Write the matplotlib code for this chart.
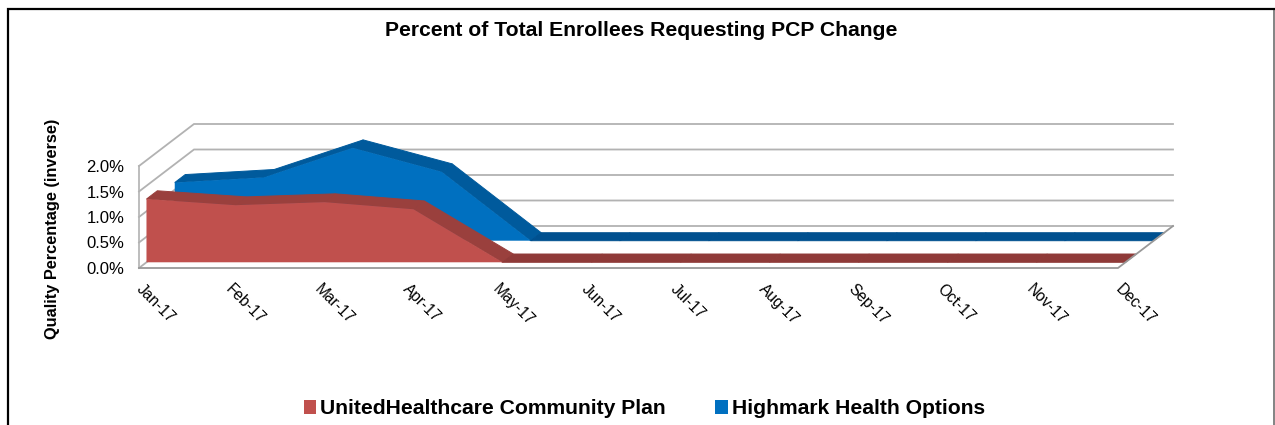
import matplotlib
matplotlib.use("Agg")
import matplotlib.pyplot as plt
from matplotlib.patches import Patch, Polygon
from matplotlib.lines import Line2D
from matplotlib.transforms import ScaledTranslation

plt.rcParams['font.family'] = ['Liberation Sans', 'DejaVu Sans']

months = ['Jan-17', 'Feb-17', 'Mar-17', 'Apr-17', 'May-17', 'Jun-17',
          'Jul-17', 'Aug-17', 'Sep-17', 'Oct-17', 'Nov-17', 'Dec-17']
united = [1.24, 1.12, 1.18, 1.04, 0, 0, 0, 0, 0, 0, 0, 0]
highmark = [1.14, 1.24, 1.82, 1.35, 0, 0, 0, 0, 0, 0, 0, 0]
y_ticks = [0.0, 0.5, 1.0, 1.5, 2.0]
y_labels = ['0.0%', '0.5%', '1.0%', '1.5%', '2.0%']

W, H = 1275, 425
fig = plt.figure(figsize=(W / 100, H / 100), dpi=100, facecolor='white')

# pixel geometry of the front floor edge
L, R, B, T = 139, 1118, 268, 166
ax = fig.add_axes([L / W, 1 - B / H, (R - L) / W, (B - T) / H])
ax.set_xlim(0, 11)
ax.set_ylim(0, 2)
ax.patch.set_visible(False)
for s in ax.spines.values():
    s.set_visible(False)

# oblique projection: depth 1 moves the point right and up
DX = 55 / ((R - L) / 11)
DY = 42 / ((B - T) / 2)


def proj(x, v, t):
    return x + DX * t, v + DY * t


GRID = '#b2b2b2'
for v in y_ticks:
    x0, y0 = proj(0, v, 0)
    x1, y1 = proj(0, v, 1)
    x2, y2 = proj(11, v, 1)
    ax.plot([x0, x1, x2], [y0, y1, y2], color=GRID, lw=1.3, clip_on=False,
            solid_joinstyle='miter', zorder=1)
ax.plot([0, 0], [0, 2], color=GRID, lw=1.2, clip_on=False, zorder=1)
fx, fy = proj(11, 0, 1)
ax.plot([0, 11, fx], [0, 0, fy], color='#989898', lw=1.3, clip_on=False, zorder=5)


def draw_series(values, t0, t1, face, top, slope, z):
    n = len(values)
    front = [proj(i, values[i], t0) for i in range(n)]
    base = [proj(i, 0, t0) for i in range(n)]
    ax.add_patch(Polygon(front + base[::-1], closed=True, fc=face, ec='none',
                         clip_on=False, zorder=z))
    for i in range(n - 1):
        a, b = values[i], values[i + 1]
        col = slope if a != b else top
        ax.add_patch(Polygon([proj(i, a, t0), proj(i + 1, b, t0),
                              proj(i + 1, b, t1), proj(i, a, t1)], closed=True,
                             fc=col, ec=col, lw=0.7, clip_on=False, zorder=z - 0.1))


draw_series(highmark, 0.65, 0.84, '#0070C0', '#00508F', '#005A9C', 3)
draw_series(united, 0.136, 0.333, '#C0504D', '#8F3A38', '#9A403D', 4)

ax.set_xticks(range(len(months)))
ax.set_xticklabels(months, rotation=-45, ha='left', va='top',
                   rotation_mode='anchor', fontsize=11.2, color='black')
ax.set_yticks(y_ticks)
ax.set_yticklabels(y_labels, fontsize=12, color='black')
ax.tick_params(axis='both', length=0)
ax.tick_params(axis='x', pad=9.5)
ax.tick_params(axis='y', pad=10.7)
shift = ScaledTranslation(5 / 100, 0, fig.dpi_scale_trans)
for lab in ax.get_xticklabels():
    lab.set_transform(lab.get_transform() + shift)

fig.text(641 / W, 1 - 31 / H, 'Percent of Total Enrollees Requesting PCP Change',
         ha='center', va='center', fontsize=15.2, fontweight='bold')
fig.text(53 / W, 1 - 229 / H, 'Quality Percentage (inverse)', rotation=90,
         ha='center', va='center', fontsize=11.8, fontweight='bold')

handles = [Patch(fc='#C0504D', ec='none', label='UnitedHealthcare Community Plan'),
           Patch(fc='#0070C0', ec='none', label='Highmark Health Options')]
fig.legend(handles=handles, loc='center', bbox_to_anchor=(644.5 / W, 1 - 409 / H), ncols=2,
           frameon=False, prop={'weight': 'bold', 'size': 15.2},
           handlelength=0.6, handleheight=0.6, handletextpad=0.2, columnspacing=2.34)

# outer chart frame, running off the bottom and right of the image
fig.add_artist(Line2D([1274 / W, 1274 / W], [0, 1 - 9 / H], color='#6e6e6e', lw=1.2))
fig.add_artist(Line2D([7.5 / W, 7.5 / W, 1], [0, 1 - 9 / H, 1 - 9 / H], color='black', lw=1.6,
                      solid_joinstyle='miter'))

fig.savefig('out.png', dpi=100, facecolor='white')
